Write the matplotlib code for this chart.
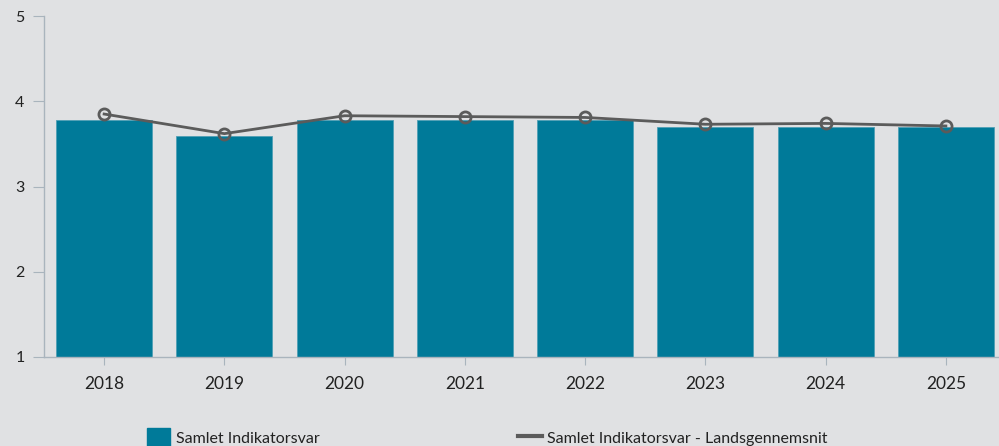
import matplotlib
matplotlib.use("Agg")
import matplotlib.pyplot as plt
from matplotlib.patches import Patch
from matplotlib.lines import Line2D

years = ["2018", "2019", "2020", "2021", "2022", "2023", "2024", "2025"]
samlet = [3.78, 3.59, 3.78, 3.78, 3.78, 3.70, 3.70, 3.70]
landsgennemsnit = [3.85, 3.62, 3.83, 3.82, 3.81, 3.73, 3.74, 3.71]
yticks = [1, 2, 3, 4, 5]

plt.rcParams['font.family'] = ['Lato', 'DejaVu Sans']

bg = "#e0e1e3"
bar_color = "#007a99"
line_color = "#5b5b5b"
axis_color = "#a9b4bd"

fig = plt.figure(figsize=(9.99, 4.46), dpi=100)
fig.patch.set_facecolor(bg)
ax = fig.add_axes([44/999, 89/446, 962/999, 341/446])
ax.set_facecolor(bg)

x = list(range(len(years)))
ax.bar(x, [v - 1 for v in samlet], bottom=1, width=0.80, color=bar_color,
       edgecolor="#4f9fb5", linewidth=0.6, zorder=2)
ax.plot(x, landsgennemsnit, color=line_color, linewidth=2, marker="o",
        markersize=8, markerfacecolor="none", markeredgecolor=line_color,
        markeredgewidth=2, zorder=3)

ax.set_xlim(-0.5, len(years) - 0.5)
ax.set_ylim(1, 5)
ax.set_yticks(yticks)
ax.set_yticklabels([str(t) for t in yticks], fontsize=11.5, color="#222222")
ax.set_xticks(x)
ax.set_xticklabels(years, fontsize=12.5, color="#222222")

for s in ["top", "right"]:
    ax.spines[s].set_visible(False)
ax.spines["left"].set_color(axis_color)
ax.spines["bottom"].set_color(axis_color)
ax.spines["left"].set_linewidth(1)
ax.spines["bottom"].set_linewidth(1)
ax.tick_params(axis="y", length=8, color=axis_color, pad=6)
ax.tick_params(axis="x", length=6, color=axis_color, pad=8)

handles = [Patch(facecolor=bar_color, edgecolor=bar_color),
           Line2D([0], [0], color=line_color, linewidth=3)]
labels = ["Samlet Indikatorsvar", "Samlet Indikatorsvar - Landsgennemsnit"]
leg = fig.legend(handles, labels, loc="center left", bbox_to_anchor=(147/999, 8/446),
                 ncol=2, frameon=False, fontsize=11.5, handlelength=1.45, handleheight=1.5,
                 handletextpad=0.35, columnspacing=12.45, borderaxespad=0, borderpad=0)
for t in leg.get_texts():
    t.set_color("#222222")

fig.savefig("out.png", dpi=100, facecolor=bg)
